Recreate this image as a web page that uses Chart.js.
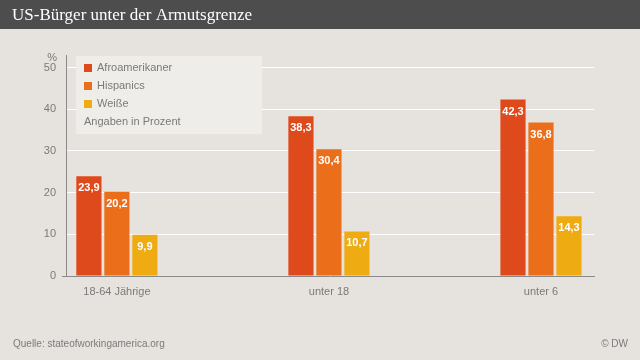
<!DOCTYPE html>
<html>
<head>
<meta charset="utf-8">
<script src="https://cdn.jsdelivr.net/npm/chart.js@4/dist/chart.umd.min.js"></script>
<style>
  html, body { margin: 0; padding: 0; background: #e6e3df; }
  canvas { display: block; }
</style>
</head>
<body>
<canvas id="lienzo" width="640" height="360"></canvas>
<script>
'use strict';

// datos del grafico
const categorias = ['18-64 Jährige', 'unter 18', 'unter 6'];
const afroamerikaner = [23.9, 38.3, 42.3];
const hispanics = [20.2, 30.4, 36.8];
const weisse = [9.9, 10.7, 14.3];
const ticksY = [0, 10, 20, 30, 40, 50];

const titulo = 'US-Bürger unter der Armutsgrenze';
const nota = 'Angaben in Prozent';
const quelle = 'Quelle: stateofworkingamerica.org';

const grau = '#7a7a7a';

// fondo, titulo, pie, leyenda y etiquetas de las barras
const dibujoExtra = {
    id: 'dibujoExtra',
    beforeDraw(chart) {
        const c = chart.ctx;
        c.save();
        c.fillStyle = '#e6e3df';
        c.fillRect(0, 0, chart.width, chart.height);
        c.fillStyle = '#4d4d4d';
        c.fillRect(0, 0, chart.width, 29);
        c.fillStyle = '#ffffff';
        c.font = '17px "Liberation Serif", "DejaVu Serif", serif';
        c.textBaseline = 'alphabetic';
        c.fillText(titulo, 12, 20);

        c.fillStyle = grau;
        c.font = '10px "Liberation Sans", Arial, sans-serif';
        c.fillText(quelle, 13, 347);
        c.textAlign = 'right';
        c.fillText('© DW', 628, 347);

        c.font = '11px "Liberation Sans", Arial, sans-serif';
        c.fillText('%', 57, 61);
        c.restore();
    },
    afterDraw(chart) {
        const c = chart.ctx;
        c.save();
        // leyenda
        c.fillStyle = '#efedea';
        c.fillRect(76, 56, 186, 78);
        c.font = '11px "Liberation Sans", Arial, sans-serif';
        c.textBaseline = 'middle';
        chart.data.datasets.forEach((ds, i) => {
            const y = 68 + i * 18;
            c.fillStyle = ds.backgroundColor;
            c.fillRect(84, y - 4, 8, 8);
            c.fillStyle = grau;
            c.fillText(ds.label, 97, y);
        });
        c.fillText(nota, 84, 122);

        // marca pequena en el cero
        c.strokeStyle = '#8a8a8a';
        c.beginPath();
        c.moveTo(62, 276.5);
        c.lineTo(66, 276.5);
        c.stroke();

        // valores en las barras
        c.fillStyle = '#ffffff';
        c.font = 'bold 11px "Liberation Sans", Arial, sans-serif';
        c.textAlign = 'center';
        chart.data.datasets.forEach((ds, i) => {
            chart.getDatasetMeta(i).data.forEach((bar, j) => {
                const txt = ds.data[j].y.toFixed(1).replace('.', ',');
                c.fillText(txt, bar.x, bar.y + 12);
            });
        });
        c.restore();
    }
};

const aPuntos = (serie) => serie.map((v, i) => ({ x: i, y: v }));

const ctx = document.getElementById('lienzo');
const myChart = new Chart(ctx, {
    type: 'bar',
    data: {
        datasets: [{
            label: 'Afroamerikaner',
            data: aPuntos(afroamerikaner),
            backgroundColor: '#df4a1c'
        },
        {
            label: 'Hispanics',
            data: aPuntos(hispanics),
            backgroundColor: '#eb6f1b'
        },
        {
            label: 'Weiße',
            data: aPuntos(weisse),
            backgroundColor: '#efab12'
        }]
    },
    options: {
        responsive: false,
        animation: false,
        categoryPercentage: 0.396,
        barPercentage: 0.9,
        layout: { padding: { top: 55, left: 0, right: 46, bottom: 0 } },
        plugins: {
            legend: { display: false },
            tooltip: { enabled: false }
        },
        scales: {
            x: {
                type: 'linear',
                offset: false,
                min: -0.24,
                max: 2.25,
                grid: { display: false, offset: false },
                border: { color: '#8a8a8a', width: 1 },
                ticks: {
                    stepSize: 1,
                    includeBounds: false,
                    maxRotation: 0,
                    padding: 1,
                    color: grau,
                    font: { family: '"Liberation Sans", Arial, sans-serif', size: 11 },
                    callback: (v) => Number.isInteger(v) ? categorias[v] : ''
                },
                afterFit: (scale) => { scale.height = 84; }
            },
            y: {
                min: 0,
                max: 53,
                afterBuildTicks: (scale) => { scale.ticks = ticksY.map(v => ({ value: v })); },
                grid: { color: '#ffffff', lineWidth: 1, drawTicks: false },
                border: { color: '#8a8a8a', width: 1 },
                ticks: {
                    padding: 10,
                    color: grau,
                    font: { family: '"Liberation Sans", Arial, sans-serif', size: 11 }
                },
                afterFit: (scale) => { scale.width = 66; }
            }
        }
    },
    plugins: [dibujoExtra]
});
</script>
</body>
</html>
